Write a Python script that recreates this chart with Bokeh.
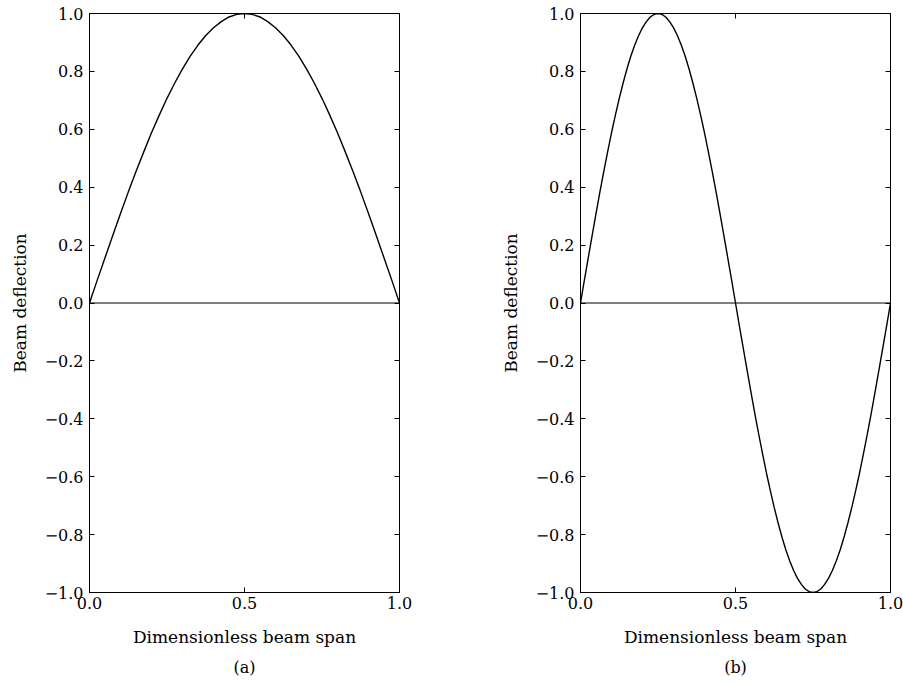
from bokeh.plotting import figure
from bokeh.layouts import row
from bokeh.models import (LinearAxis, FixedTicker, Span, Title, Range1d,
                          CustomJSTickFormatter)
from bokeh.embed import file_html
from bokeh.resources import INLINE

# Dimensionless span positions for mode (a), every 0.025
span_a = [0.0, 0.025, 0.05, 0.075, 0.1, 0.125, 0.15, 0.175, 0.2, 0.225,
          0.25, 0.275, 0.3, 0.325, 0.35, 0.375, 0.4, 0.425, 0.45, 0.475,
          0.5, 0.525, 0.55, 0.575, 0.6, 0.625, 0.65, 0.675, 0.7, 0.725,
          0.75, 0.775, 0.8, 0.825, 0.85, 0.875, 0.9, 0.925, 0.95, 0.975, 1.0]

# First mode shape (single half-wave)
mode_a = [0.0, 0.079, 0.156, 0.233, 0.309, 0.383, 0.454, 0.522, 0.588, 0.649,
          0.707, 0.760, 0.809, 0.853, 0.891, 0.924, 0.951, 0.972, 0.988, 0.997,
          1.0, 0.997, 0.988, 0.972, 0.951, 0.924, 0.891, 0.853, 0.809, 0.760,
          0.707, 0.649, 0.588, 0.522, 0.454, 0.383, 0.309, 0.233, 0.156, 0.079, 0.0]

# Dimensionless span positions for mode (b), every 0.0125
span_b = [0.0, 0.0125, 0.025, 0.0375, 0.05, 0.0625, 0.075, 0.0875, 0.1, 0.1125,
          0.125, 0.1375, 0.15, 0.1625, 0.175, 0.1875, 0.2, 0.2125, 0.225, 0.2375,
          0.25, 0.2625, 0.275, 0.2875, 0.3, 0.3125, 0.325, 0.3375, 0.35, 0.3625,
          0.375, 0.3875, 0.4, 0.4125, 0.425, 0.4375, 0.45, 0.4625, 0.475, 0.4875,
          0.5, 0.5125, 0.525, 0.5375, 0.55, 0.5625, 0.575, 0.5875, 0.6, 0.6125,
          0.625, 0.6375, 0.65, 0.6625, 0.675, 0.6875, 0.7, 0.7125, 0.725, 0.7375,
          0.75, 0.7625, 0.775, 0.7875, 0.8, 0.8125, 0.825, 0.8375, 0.85, 0.8625,
          0.875, 0.8875, 0.9, 0.9125, 0.925, 0.9375, 0.95, 0.9625, 0.975, 0.9875, 1.0]

# Second mode shape (full wave)
mode_b = [0.0, 0.079, 0.156, 0.233, 0.309, 0.383, 0.454, 0.522, 0.588, 0.649,
          0.707, 0.760, 0.809, 0.853, 0.891, 0.924, 0.951, 0.972, 0.988, 0.997,
          1.0, 0.997, 0.988, 0.972, 0.951, 0.924, 0.891, 0.853, 0.809, 0.760,
          0.707, 0.649, 0.588, 0.522, 0.454, 0.383, 0.309, 0.233, 0.156, 0.079,
          0.0, -0.079, -0.156, -0.233, -0.309, -0.383, -0.454, -0.522, -0.588, -0.649,
          -0.707, -0.760, -0.809, -0.853, -0.891, -0.924, -0.951, -0.972, -0.988, -0.997,
          -1.0, -0.997, -0.988, -0.972, -0.951, -0.924, -0.891, -0.853, -0.809, -0.760,
          -0.707, -0.649, -0.588, -0.522, -0.454, -0.383, -0.309, -0.233, -0.156, -0.079, 0.0]

x_ticks = [0.0, 0.5, 1.0]
y_ticks = [-1.0, -0.8, -0.6, -0.4, -0.2, 0.0, 0.2, 0.4, 0.6, 0.8, 1.0]
x_label = "Dimensionless beam span"
y_label = "Beam deflection"
captions = ["(a)", "(b)"]

FONT = "DejaVu Serif"
fmt_code = "return tick.toFixed(1).replace('-', '\u2212');"


def style_axis(ax, labels=True):
    ax.major_tick_in = 5
    ax.major_tick_out = 0
    ax.minor_tick_in = 0
    ax.minor_tick_out = 0
    ax.axis_line_color = "black"
    ax.major_tick_line_color = "black"
    ax.major_label_text_color = "black"
    ax.major_label_text_font = FONT
    ax.major_label_text_font_size = "16px"
    if labels:
        ax.formatter = CustomJSTickFormatter(code=fmt_code)
    else:
        ax.formatter = CustomJSTickFormatter(code="return '';")
        ax.major_label_standoff = 0
    ax.axis_label_text_font = FONT
    ax.axis_label_text_font_size = "17px"
    ax.axis_label_text_font_style = "normal"
    ax.axis_label_text_color = "black"


def panel(xs, ys, caption, width, left, right):
    p = figure(width=width, height=684, output_backend="svg", toolbar_location=None,
               x_range=Range1d(0, 1), y_range=Range1d(-1, 1),
               min_border_left=left, min_border_right=right,
               min_border_top=13, min_border_bottom=92,
               background_fill_color="white", border_fill_color="white")
    p.grid.visible = False
    p.outline_line_color = "black"
    p.outline_line_width = 1

    p.xaxis.ticker = FixedTicker(ticks=x_ticks)
    p.yaxis.ticker = FixedTicker(ticks=y_ticks)
    for ax in p.xaxis + p.yaxis:
        style_axis(ax)
    p.xaxis.major_label_standoff = 4
    p.yaxis.major_label_standoff = 6
    p.xaxis.axis_label = x_label
    p.yaxis.axis_label = y_label
    p.xaxis.axis_label_standoff = 15
    p.yaxis.axis_label_standoff = 12

    top = LinearAxis(ticker=FixedTicker(ticks=x_ticks))
    style_axis(top, labels=False)
    top.axis_line_color = None
    p.add_layout(top, "above")
    rgt = LinearAxis(ticker=FixedTicker(ticks=y_ticks))
    style_axis(rgt, labels=False)
    rgt.axis_line_color = None
    p.add_layout(rgt, "right")

    p.add_layout(Span(location=0, dimension="width", line_color="black", line_width=1))
    p.line(xs, ys, line_color="black", line_width=1.4)

    cap = Title(text=caption, align="center", text_font=FONT, standoff=12,
                text_font_size="16px", text_font_style="normal", text_color="black")
    p.add_layout(cap, "below")
    return p


pa = panel(span_a, mode_a, captions[0], 490, 89, 91)
pb = panel(span_b, mode_b, captions[1], 413, 90, 13)
layout = row(pa, pb)

open("out.html", "w").write(file_html(layout, INLINE))
